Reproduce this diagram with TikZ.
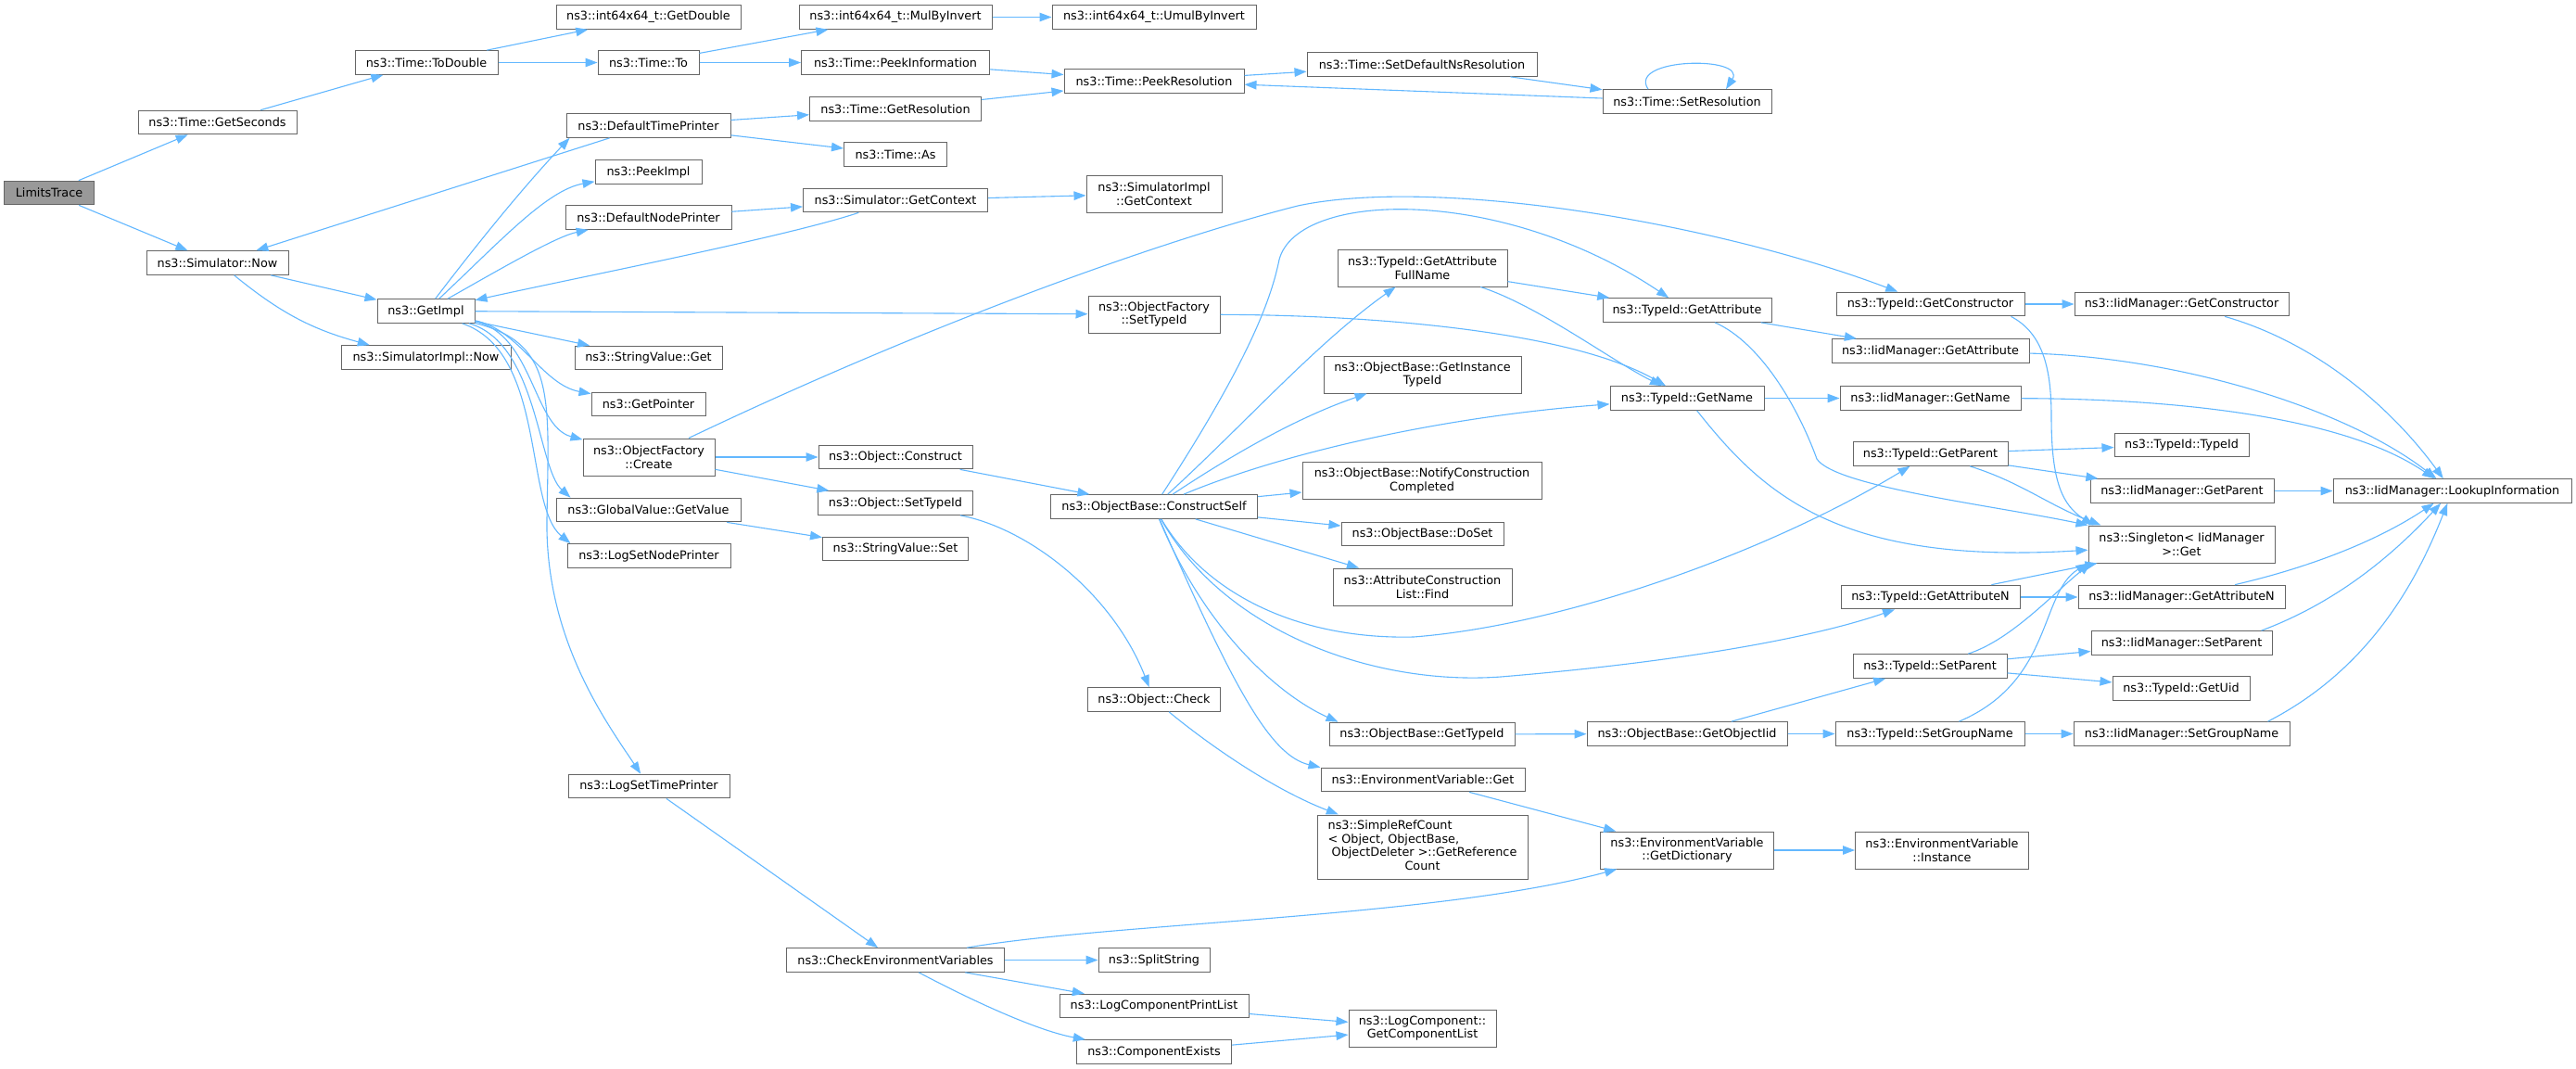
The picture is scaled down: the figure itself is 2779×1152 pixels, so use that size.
\documentclass[tikz,border=0pt]{standalone}
\usepackage{fontspec}
\newfontfamily\dvs{DejaVu Sans}
\usetikzlibrary{arrows.meta}
\definecolor{boxgray}{HTML}{666666}
\definecolor{rootgray}{HTML}{999999}
\definecolor{edgeblue}{HTML}{63B8FF}
\newcommand\nodefont{\dvs\fontsize{12.8pt}{14.7pt}\selectfont}
\tikzset{
  fnbox/.style={draw=boxgray, fill=white, line width=1pt, inner xsep=3pt, inner ysep=0pt,
    minimum height=25.7pt, align=center, font=\nodefont},
  fnbox2/.style={fnbox, minimum height=40pt},
  calledge/.style={draw=edgeblue, line width=1.1pt, -{Triangle[length=13pt,width=9.5pt]}}
}
\begin{document}
\begin{tikzpicture}[x=1pt,y=-1pt]
\fill[white] (0,0) rectangle (2779,1152);
\useasboundingbox (0,0) rectangle (2779,1152);
% rank 0
\node[fnbox, fill=rootgray, minimum width=97pt] (lt) at (53,208) {LimitsTrace};
% rank 1
\node[fnbox, minimum width=171pt] (gs) at (234.5,132) {ns3::Time::GetSeconds};
\node[fnbox, minimum width=153pt] (now) at (234.5,283.5) {ns3::Simulator::Now};
% rank 2
\node[fnbox, minimum width=154pt] (todbl) at (460,67.5) {ns3::Time::ToDouble};
\node[fnbox, minimum width=105pt] (getimpl) at (459.5,335.5) {ns3::GetImpl};
\node[fnbox, minimum width=183pt] (simimplnow) at (459.5,385.5) {ns3::SimulatorImpl::Now};
% rank 3
\node[fnbox, minimum width=199pt] (getdbl) at (699.5,18.5) {ns3::int64x64\_t::GetDouble};
\node[fnbox, minimum width=109pt] (timeto) at (699.5,67.5) {ns3::Time::To};
\node[fnbox, minimum width=177pt] (dtp) at (699.5,135.5) {ns3::DefaultTimePrinter};
\node[fnbox, minimum width=115pt] (peekimpl) at (699.5,185.5) {ns3::PeekImpl};
\node[fnbox, minimum width=179pt] (dnp) at (699.5,234.5) {ns3::DefaultNodePrinter};
\node[fnbox, minimum width=159pt] (svget) at (699.5,386) {ns3::StringValue::Get};
\node[fnbox, minimum width=123pt] (getptr) at (699.5,436) {ns3::GetPointer};
\node[fnbox2, minimum width=142pt] (ofcreate) at (700,493) {ns3::ObjectFactory\\::Create};
\node[fnbox, minimum width=199pt] (gvget) at (699.5,550) {ns3::GlobalValue::GetValue};
\node[fnbox, minimum width=176pt] (lsnp) at (700,599.5) {ns3::LogSetNodePrinter};
\node[fnbox, minimum width=174pt] (lstp) at (700,848) {ns3::LogSetTimePrinter};
% rank 4
\node[fnbox, minimum width=208pt] (mulinv) at (966,18.5) {ns3::int64x64\_t::MulByInvert};
\node[fnbox, minimum width=203pt] (peekinfo) at (966,67.5) {ns3::Time::PeekInformation};
\node[fnbox, minimum width=185pt] (getres) at (966,117.5) {ns3::Time::GetResolution};
\node[fnbox, minimum width=111pt] (timeas) at (966,166.5) {ns3::Time::As};
\node[fnbox, minimum width=199pt] (simgetctx) at (966,216) {ns3::Simulator::GetContext};
\node[fnbox, minimum width=166pt] (objconstruct) at (966,493) {ns3::Object::Construct};
\node[fnbox, minimum width=167pt] (objsettid) at (966,542.5) {ns3::Object::SetTypeId};
\node[fnbox, minimum width=157pt] (svset) at (966,592) {ns3::StringValue::Set};
\node[fnbox, minimum width=235pt] (cev) at (966,1035.5) {ns3::CheckEnvironmentVariables};
% rank 5
\node[fnbox, minimum width=220pt] (umul) at (1245,18.5) {ns3::int64x64\_t::UmulByInvert};
\node[fnbox, minimum width=194pt] (peekres) at (1245,87.5) {ns3::Time::PeekResolution};
\node[fnbox2, minimum width=146pt] (simimplctx) at (1245,209) {ns3::SimulatorImpl\\::GetContext};
\node[fnbox2, minimum width=142pt] (ofsettid) at (1245,339) {ns3::ObjectFactory\\::SetTypeId};
\node[fnbox, minimum width=223pt] (constructself) at (1245,546.5) {ns3::ObjectBase::ConstructSelf};
\node[fnbox, minimum width=143pt] (objcheck) at (1245,754.5) {ns3::Object::Check};
\node[fnbox, minimum width=120pt] (splitstr) at (1245,1035.5) {ns3::SplitString};
\node[fnbox, minimum width=204pt] (lcpl) at (1245,1085) {ns3::LogComponentPrintList};
\node[fnbox, minimum width=167pt] (compexists) at (1245,1134.5) {ns3::ComponentExists};
% rank 6
\node[fnbox, minimum width=248pt] (setdefns) at (1534,69.5) {ns3::Time::SetDefaultNsResolution};
\node[fnbox2, minimum width=183pt] (gafn) at (1534.5,289) {ns3::TypeId::GetAttribute\\FullName};
\node[fnbox2, minimum width=213pt] (getinsttid) at (1534.5,404) {ns3::ObjectBase::GetInstance\\TypeId};
\node[fnbox2, minimum width=258pt] (notify) at (1534,518.5) {ns3::ObjectBase::NotifyConstruction\\Completed};
\node[fnbox, minimum width=175pt] (doset) at (1534.5,576) {ns3::ObjectBase::DoSet};
\node[fnbox2, minimum width=193pt] (acfind) at (1534.5,633) {ns3::AttributeConstruction\\List::Find};
\node[fnbox, minimum width=200pt] (obgettid) at (1534,792) {ns3::ObjectBase::GetTypeId};
\node[fnbox, minimum width=220pt] (envget) at (1535,841) {ns3::EnvironmentVariable::Get};
\node[fnbox, minimum width=227pt, minimum height=69pt] (simplerc) at (1534.5,913.5)
  {\begin{tabular}{@{}l@{}}ns3::SimpleRefCount\\< Object, ObjectBase,\\\ ObjectDeleter >::GetReference\\\multicolumn{1}{@{}c@{}}{Count}\end{tabular}};
\node[fnbox2, minimum width=159pt] (getcomplist) at (1534.5,1109) {ns3::LogComponent::\\GetComponentList};
% rank 7
\node[fnbox, minimum width=182pt] (setres) at (1820,109.5) {ns3::Time::SetResolution};
\node[fnbox, minimum width=182pt] (tidgetattr) at (1820,334.5) {ns3::TypeId::GetAttribute};
\node[fnbox, minimum width=166pt] (tidgetname) at (1820,429.5) {ns3::TypeId::GetName};
\node[fnbox, minimum width=216pt] (getobjiid) at (1820,791.5) {ns3::ObjectBase::GetObjectIid};
\node[fnbox2, minimum width=187pt] (getdict) at (1820,917) {ns3::EnvironmentVariable\\::GetDictionary};
% rank 8
\node[fnbox, minimum width=203pt] (tidgetctor) at (2082.5,328) {ns3::TypeId::GetConstructor};
\node[fnbox, minimum width=213pt] (iidgetattr) at (2082.5,378.5) {ns3::IidManager::GetAttribute};
\node[fnbox, minimum width=195pt] (iidgetname) at (2082.5,429.5) {ns3::IidManager::GetName};
\node[fnbox, minimum width=167pt] (tidgetparent) at (2082.5,489.5) {ns3::TypeId::GetParent};
\node[fnbox, minimum width=193pt] (tidgetattrn) at (2082.5,644) {ns3::TypeId::GetAttributeN};
\node[fnbox, minimum width=166pt] (tidsetparent) at (2082,718.5) {ns3::TypeId::SetParent};
\node[fnbox, minimum width=204pt] (tidsetgroup) at (2082,791.5) {ns3::TypeId::SetGroupName};
\node[fnbox2, minimum width=187pt] (envinst) at (2095,917) {ns3::EnvironmentVariable\\::Instance};
% rank 9
\node[fnbox, minimum width=231pt] (iidgetctor) at (2353.5,328) {ns3::IidManager::GetConstructor};
\node[fnbox, minimum width=145pt] (tidtypeid) at (2353.5,480) {ns3::TypeId::TypeId};
\node[fnbox, minimum width=198pt] (iidgetparent) at (2354,529.5) {ns3::IidManager::GetParent};
\node[fnbox2, minimum width=201pt] (singleton) at (2353.5,587) {ns3::Singleton< IidManager\\>::Get};
\node[fnbox, minimum width=223pt] (iidgetattrn) at (2353.5,644) {ns3::IidManager::GetAttributeN};
\node[fnbox, minimum width=195pt] (iidsetparent) at (2353.5,693.5) {ns3::IidManager::SetParent};
\node[fnbox, minimum width=148pt] (tidgetuid) at (2353,742.5) {ns3::TypeId::GetUid};
\node[fnbox, minimum width=233pt] (iidsetgroup) at (2353.5,791.5) {ns3::IidManager::SetGroupName};
% rank 10
\node[fnbox, minimum width=257pt] (lookup) at (2645.5,529.5) {ns3::IidManager::LookupInformation};

% ---- edges ----
\draw[calledge] (lt) -- (gs);
\draw[calledge] (lt) -- (now);
\draw[calledge] (gs) -- (todbl);
\draw[calledge] (todbl) -- (getdbl);
\draw[calledge] (todbl) -- (timeto);
\draw[calledge] (timeto) -- (mulinv);
\draw[calledge] (timeto) -- (peekinfo);
\draw[calledge] (mulinv) -- (umul);
\draw[calledge] (peekinfo) -- (peekres);
\draw[calledge] (peekres) -- (setdefns);
\draw[calledge] (setdefns) -- (setres);
\draw[calledge] (setres) -- (peekres);
\draw[calledge] ([xshift=-42pt]setres.north) .. controls (1755,62) and (1885,60) .. ([xshift=42pt]setres.north);
\draw[calledge] (getres) -- (peekres);
\draw[calledge] (dtp) -- (getres);
\draw[calledge] (dtp) -- (timeas);
\draw[calledge] (dtp) -- (now);
\draw[calledge] (now) -- (getimpl);
\draw[calledge] (now) to[bend right=12] (simimplnow);
\draw[calledge] (getimpl) .. controls (540,230) and (585,180) .. ([xshift=4pt]dtp.south west);
\draw[calledge] (getimpl) .. controls (540,260) and (590,205) .. (peekimpl);
\draw[calledge] (getimpl) .. controls (540,290) and (600,255) .. (dnp);
\draw[calledge] (simgetctx) .. controls (850,255) and (620,300) .. (getimpl);
\draw[calledge] (dnp) -- (simgetctx);
\draw[calledge] (simgetctx) -- (simimplctx);
\draw[calledge] (getimpl) -- (ofsettid);
\draw[calledge] (getimpl) -- (svget);
\draw[calledge] (getimpl) .. controls (560,355) and (585,415) .. (getptr);
\draw[calledge] (getimpl) .. controls (575,360) and (575,460) .. (ofcreate);
\draw[calledge] (getimpl) .. controls (580,370) and (580,505) .. ([xshift=16pt]gvget.north west);
\draw[calledge] (getimpl) .. controls (590,380) and (565,545) .. ([xshift=4pt]lsnp.north west);
\draw[calledge] (getimpl) .. controls (600,370) and (592,430) .. (590,560) .. controls (588,690) and (655,780) .. (lstp);
\draw[calledge] (ofcreate) -- (objconstruct);
\draw[calledge] (ofcreate) -- (objsettid);
\draw[calledge] (ofcreate) .. controls (1000,350) and (1250,260) .. (1400,222) .. controls (1550,190) and (1850,240) .. (tidgetctor);
\draw[calledge] (gvget) -- (svset);
\draw[calledge] (objconstruct) -- (constructself);
\draw[calledge] (objsettid) .. controls (1110,570) and (1200,640) .. (objcheck);
\draw[calledge] (ofsettid) .. controls (1500,340) and (1700,360) .. (tidgetname);
\draw[calledge] (objcheck) .. controls (1300,800) and (1370,850) .. (simplerc);
% ConstructSelf
\draw[calledge] (constructself) .. controls (1340,460) and (1420,370) .. (gafn);
\draw[calledge] (constructself) .. controls (1340,400) and (1370,330) .. (1380,280) .. controls (1400,205) and (1620,200) .. (tidgetattr);
\draw[calledge] (constructself) .. controls (1330,490) and (1400,450) .. (getinsttid);
\draw[calledge] (constructself) .. controls (1380,490) and (1550,450) .. (tidgetname);
\draw[calledge] (constructself) -- (notify);
\draw[calledge] (constructself) -- (doset);
\draw[calledge] (constructself) -- (acfind);
\draw[calledge] (constructself) .. controls (1300,640) and (1400,690) .. (1525,687) .. controls (1680,675) and (1900,600) .. (tidgetparent);
\draw[calledge] (constructself) .. controls (1320,680) and (1480,740) .. (1619,730) .. controls (1800,715) and (1950,690) .. (tidgetattrn);
\draw[calledge] (constructself) .. controls (1300,680) and (1380,750) .. ([xshift=10pt]obgettid.north west);
\draw[calledge] (constructself) .. controls (1330,740) and (1370,815) .. (envget.north west);
% TypeId level
\draw[calledge] (gafn) -- (tidgetattr);
\draw[calledge] (gafn) .. controls (1660,330) and (1740,390) .. (tidgetname);
\draw[calledge] (tidgetattr) -- (iidgetattr);
\draw[calledge] (tidgetattr) .. controls (1900,370) and (1940,440) .. (1960,495) .. controls (1980,525) and (2150,545) .. (singleton.north west);
\draw[calledge] (tidgetctor) -- (iidgetctor);
\draw[calledge] ([xshift=-15pt]tidgetctor.south east) .. controls (2205,360) and (2213,400) .. (2213,450) .. controls (2213,520) and (2225,545) .. ([xshift=6pt]singleton.north west);
\draw[calledge] (iidgetctor) .. controls (2500,370) and (2580,440) .. (lookup);
\draw[calledge] (iidgetattr) .. controls (2350,385) and (2530,440) .. (lookup);
\draw[calledge] (tidgetname) -- (iidgetname);
\draw[calledge] (tidgetname) .. controls (1900,530) and (1980,610) .. (singleton);
\draw[calledge] (iidgetname) .. controls (2350,430) and (2530,450) .. (lookup);
\draw[calledge] (tidgetparent) -- (tidtypeid);
\draw[calledge] (tidgetparent) -- (iidgetparent);
\draw[calledge] (tidgetparent) .. controls (2180,520) and (2210,545) .. ([xshift=14pt]singleton.north west);
\draw[calledge] (iidgetparent) -- (lookup);
\draw[calledge] (tidgetattrn) -- ([xshift=10pt]singleton.south west);
\draw[calledge] (tidgetattrn) -- (iidgetattrn);
\draw[calledge] (iidgetattrn) .. controls (2500,610) and (2570,580) .. (lookup);
\draw[calledge] (tidsetparent) .. controls (2170,690) and (2215,640) .. ([xshift=3pt]singleton.south west);
\draw[calledge] (tidsetparent) -- (iidsetparent);
\draw[calledge] (tidsetparent) -- (tidgetuid);
\draw[calledge] ([xshift=-12pt]iidsetparent.north east) .. controls (2520,650) and (2580,600) .. (lookup);
\draw[calledge] (obgettid) -- (getobjiid);
\draw[calledge] (getobjiid) -- (tidsetparent);
\draw[calledge] (getobjiid) -- (tidsetgroup);
\draw[calledge] (tidsetgroup) .. controls (2215,735) and (2200,640) .. (singleton.south west);
\draw[calledge] (tidsetgroup) -- (iidsetgroup);
\draw[calledge] ([xshift=-24pt]iidsetgroup.north east) .. controls (2560,720) and (2610,620) .. (lookup);
% environment / log
\draw[calledge] (envget) -- (getdict);
\draw[calledge] (getdict) -- (envinst);
\draw[calledge] (lstp) -- (cev);
\draw[calledge] (cev) .. controls (1200,995) and (1550,990) .. (getdict);
\draw[calledge] (cev) -- (splitstr);
\draw[calledge] (cev) -- (lcpl);
\draw[calledge] (cev) .. controls (1050,1080) and (1120,1112) .. (compexists);
\draw[calledge] (lcpl) -- (getcomplist);
\draw[calledge] (compexists) -- (getcomplist);
\end{tikzpicture}
\end{document}
